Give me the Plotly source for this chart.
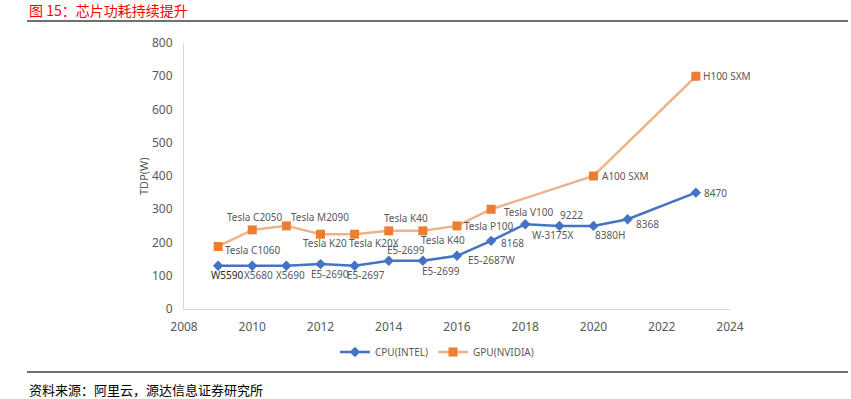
import plotly.graph_objects as go

cpu_years = [2009, 2010, 2011, 2012, 2013, 2014, 2015, 2016, 2017, 2018, 2019, 2020, 2021, 2023]
cpu_tdp = [130, 130, 130, 135, 130, 145, 145, 160, 205, 255, 250, 250, 270, 350]
cpu_names = ["W5590", "X5680", "X5690", "E5-2690", "E5-2697", "E5-2699", "E5-2699",
             "E5-2687W", "8168", "W-3175X", "9222", "8380H", "8368", "8470"]

gpu_years = [2009, 2010, 2011, 2012, 2013, 2014, 2015, 2016, 2017, 2020, 2023]
gpu_tdp = [188, 238, 250, 225, 225, 235, 235, 250, 300, 400, 700]
gpu_names = ["Tesla C1060", "Tesla C2050", "Tesla M2090", "Tesla K20", "Tesla K20X",
             "Tesla K40", "Tesla K40", "Tesla P100", "Tesla V100", "A100 SXM", "H100 SXM"]

x_ticks = [2008, 2010, 2012, 2014, 2016, 2018, 2020, 2022, 2024]
y_ticks = [0, 100, 200, 300, 400, 500, 600, 700, 800]

# label offsets in pixels (dx right, dy down)
cpu_dx = [9, 6, 4, 9, 11, 17, 18, 34, 21, 27, 12, 16, 20, 20]
cpu_dy = [9, 9, 9, 10, 9, -11, 10, 4, 2, 11, -11, 9, 5, 0]
gpu_dx = [35, 3, 34, 4, 19, 17, 20, 32, 38, 32, 31]
gpu_dy = [4, -13, -9, 9, 9, -13, 9, 0, 3, 0, 0]

FONT = "Noto Sans, Noto Sans CJK SC, sans-serif"
GRAY = "#595959"

fig = go.Figure()
fig.add_trace(go.Scatter(
    x=cpu_years, y=cpu_tdp, name="CPU(INTEL)", mode="lines+markers",
    line=dict(color="#4472C4", width=2.5),
    marker=dict(symbol="diamond", size=8, color="#4472C4"),
))
fig.add_trace(go.Scatter(
    x=gpu_years, y=gpu_tdp, name="GPU(NVIDIA)", mode="lines+markers",
    line=dict(color="#EDB48A", width=2.5),
    marker=dict(symbol="square", size=9, color="#ED7D31"),
))

for i, (xv, yv, t) in enumerate(zip(cpu_years, cpu_tdp, cpu_names)):
    fig.add_annotation(x=xv, y=yv, text=t, showarrow=False, xanchor="center", yanchor="middle",
                       xshift=cpu_dx[i], yshift=-cpu_dy[i],
                       font=dict(size=10, color="#262626" if i == 0 else GRAY, family=FONT))
for i, (xv, yv, t) in enumerate(zip(gpu_years, gpu_tdp, gpu_names)):
    fig.add_annotation(x=xv, y=yv, text=t, showarrow=False, xanchor="center", yanchor="middle",
                       xshift=gpu_dx[i], yshift=-gpu_dy[i],
                       font=dict(size=10, color=GRAY, family=FONT))

L, R, T, B = 184, 730, 43, 309
W, H = 851, 399
pw, ph = R - L, B - T

def px(x):
    return (x - L) / pw

def py(y):
    return (B - y) / ph

# title
fig.add_annotation(xref="paper", yref="paper", x=px(27), y=py(10), text="图 15：芯片功耗持续提升",
                   showarrow=False, xanchor="left", yanchor="middle",
                   font=dict(size=14, color="#FF0000", family="Noto Sans CJK SC"))
# source
fig.add_annotation(xref="paper", yref="paper", x=px(27), y=py(389), text="资料来源：阿里云，源达信息证券研究所",
                   showarrow=False, xanchor="left", yanchor="middle",
                   font=dict(size=13, color="#000000", family="Noto Sans CJK SC"))
# y axis title
fig.add_annotation(xref="paper", yref="paper", x=px(143), y=py(176), text="TDP(W)",
                   showarrow=False, textangle=-90, xanchor="center", yanchor="middle",
                   font=dict(size=11, color=GRAY, family=FONT))

fig.add_shape(type="line", xref="paper", yref="paper", x0=px(27), x1=px(848), y0=py(21), y1=py(21),
              line=dict(color="#404040", width=1.5))
fig.add_shape(type="line", xref="paper", yref="paper", x0=px(27), x1=px(848), y0=py(372), y1=py(372),
              line=dict(color="#404040", width=1.5))

fig.update_layout(
    width=W, height=H,
    margin=dict(l=L, r=W - R, t=T, b=H - B),
    paper_bgcolor="white", plot_bgcolor="white",
    font=dict(family=FONT, color=GRAY),
    xaxis=dict(range=[2008, 2024], tickvals=x_ticks, showgrid=False, zeroline=False,
               showline=True, linecolor="#D9D9D9", linewidth=1, ticks="",
               ticklabelstandoff=7, tickfont=dict(size=12, color=GRAY)),
    yaxis=dict(range=[0, 800], tickvals=y_ticks, showgrid=False, zeroline=False,
               showline=True, linecolor="#D9D9D9", linewidth=1, ticks="",
               ticklabelstandoff=8, tickfont=dict(size=12, color=GRAY)),
    legend=dict(orientation="h", x=px(437), xanchor="center", y=py(352), yanchor="middle",
                font=dict(size=10, color=GRAY), itemwidth=30, bgcolor="rgba(0,0,0,0)"),
    showlegend=True,
)

fig.write_html("out.html", config={"displayModeBar": False},
               post_script="document.body.style.margin='0';document.body.style.overflow='hidden';")
